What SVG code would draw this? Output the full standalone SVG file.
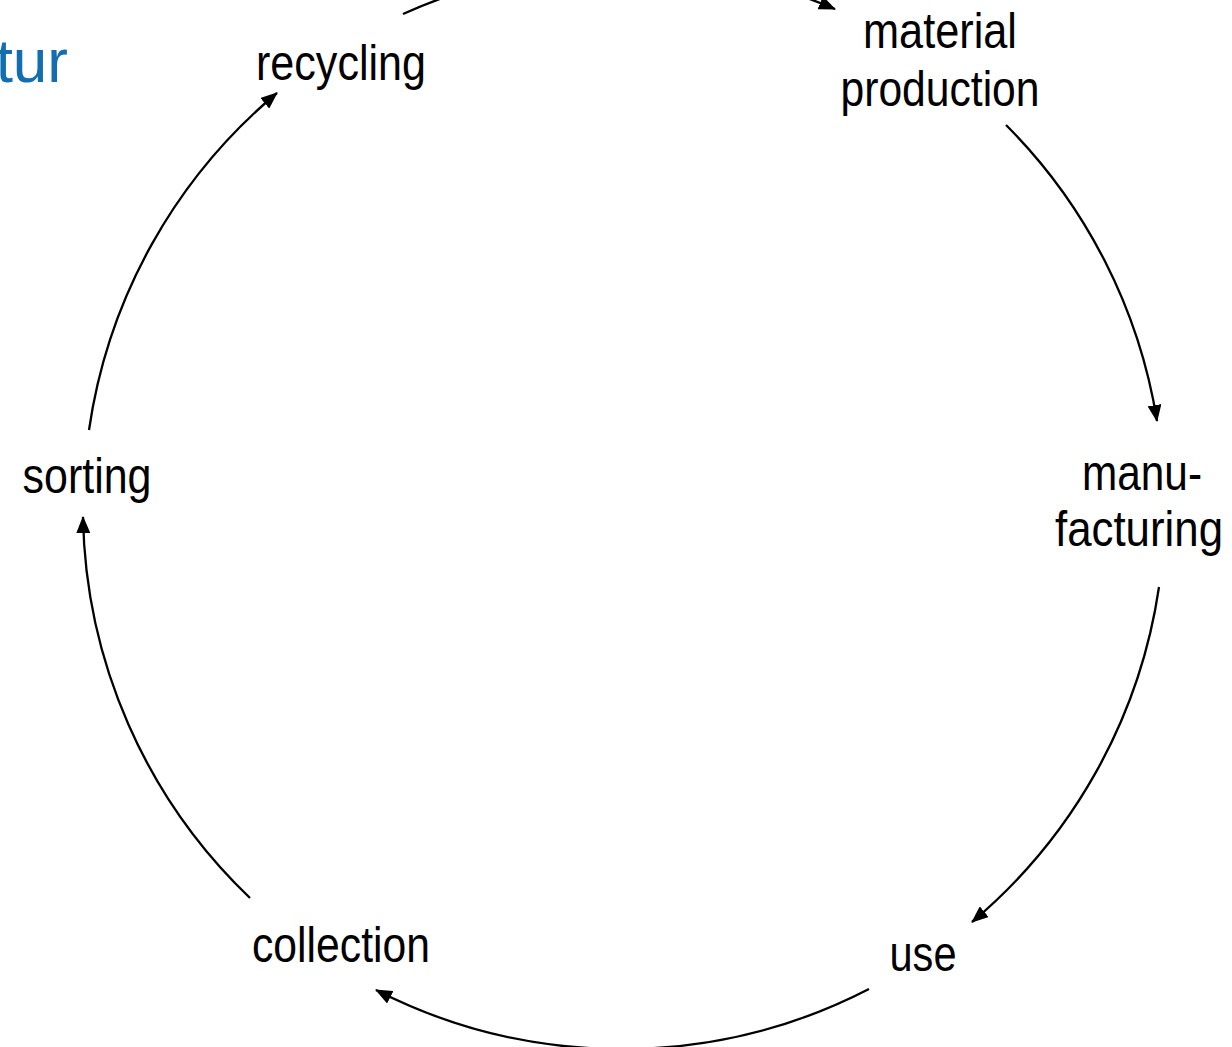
<svg xmlns="http://www.w3.org/2000/svg" width="1232" height="1047" viewBox="0 0 1232 1047">
<style>
.lbl{font-family:"Liberation Sans Narrow","Liberation Sans",Arial,sans-serif;font-size:50px;fill:#000;text-anchor:middle}
.title{font-family:"Liberation Sans",Arial,sans-serif;font-size:62px;fill:#136eb0;text-anchor:end}
.arc{fill:none;stroke:#000;stroke-width:2.3;marker-end:url(#ah)}
</style>
<defs>
<marker id="ah" markerUnits="userSpaceOnUse" markerWidth="18" markerHeight="14" refX="16" refY="7" orient="auto">
<path d="M0,0 L17,7 L0,14 z" fill="#000"/>
</marker>
</defs>
<rect width="1232" height="1047" fill="#fff"/>
<text class="title" x="68" y="82">tur</text>
<g id="connectors">
<path class="arc" d="M403,14 A540,540 0 0 1 835,9"/>
<path class="arc" d="M1006,125 A540,540 0 0 1 1157,421"/>
<path class="arc" d="M1159,587 A540,540 0 0 1 972,922"/>
<path class="arc" d="M869,989 A540,540 0 0 1 376,990"/>
<path class="arc" d="M250,898 A540,540 0 0 1 83,517"/>
<path class="arc" d="M89,430 A540,540 0 0 1 277,93"/>
</g>
<g id="recycling"><text class="lbl" x="341" y="80" textLength="170" lengthAdjust="spacingAndGlyphs">recycling</text></g>
<g id="material-production">
<text class="lbl" x="940" y="48" textLength="154" lengthAdjust="spacingAndGlyphs">material</text>
<text class="lbl" x="940" y="106" textLength="199" lengthAdjust="spacingAndGlyphs">production</text>
</g>
<g id="manufacturing">
<text class="lbl" x="1142" y="490" textLength="120" lengthAdjust="spacingAndGlyphs">manu-</text>
<text class="lbl" x="1139" y="546" textLength="168" lengthAdjust="spacingAndGlyphs">facturing</text>
</g>
<g id="use"><text class="lbl" x="923" y="971" textLength="67" lengthAdjust="spacingAndGlyphs">use</text></g>
<g id="collection"><text class="lbl" x="341" y="962" textLength="178" lengthAdjust="spacingAndGlyphs">collection</text></g>
<g id="sorting"><text class="lbl" x="87" y="493" textLength="129" lengthAdjust="spacingAndGlyphs">sorting</text></g>
</svg>
